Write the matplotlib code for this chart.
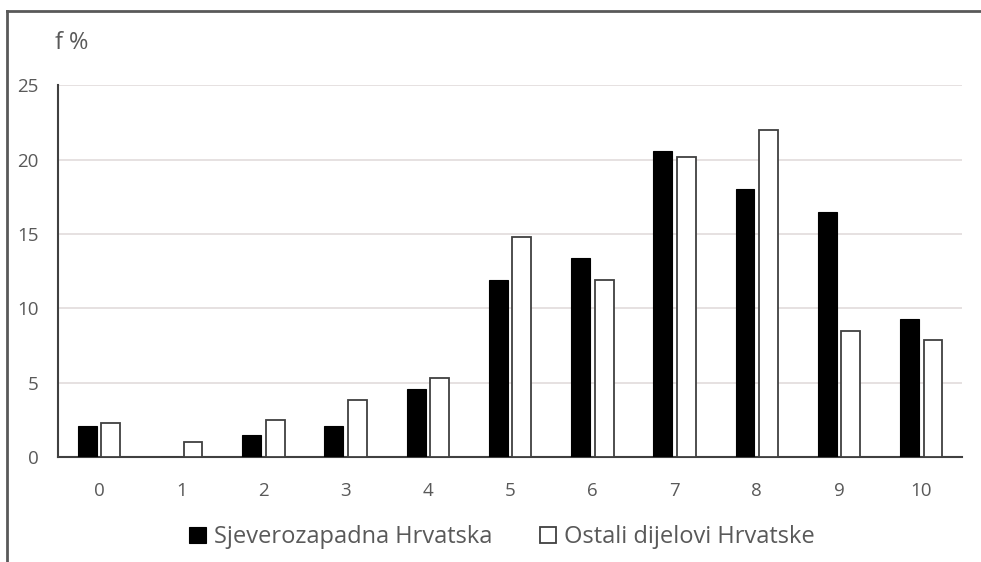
import numpy as np
import matplotlib
matplotlib.use("Agg")
import matplotlib.pyplot as plt
from matplotlib.lines import Line2D

# ── Data ───────────────────────────────────────────────────
categories = ["0", "1", "2", "3", "4", "5", "6", "7", "8", "9", "10"]
sjeverozapadna = [2.1, 0.0, 1.5, 2.1, 4.6, 11.9, 13.4, 20.6, 18.0, 16.5, 9.3]
ostali = [2.3, 1.0, 2.5, 3.8, 5.3, 14.8, 11.9, 20.2, 22.0, 8.5, 7.9]
labels = ["Sjeverozapadna Hrvatska", "Ostali dijelovi Hrvatske"]
y_ticks = [0, 5, 10, 15, 20, 25]

plt.rcParams["font.family"] = ["Open Sans", "DejaVu Sans"]
TXT = "#595959"

fig = plt.figure(figsize=(9.81, 5.62), dpi=100)
ax = fig.add_axes([0.059, 0.187, 0.922, 0.661])

x = np.arange(len(categories))
w = 0.23
off = 0.143
ax.bar(x - off, sjeverozapadna, width=w, color="black", edgecolor="black",
       linewidth=0.8, label=labels[0], zorder=3)
ax.bar(x + off, ostali, width=w, color="white", edgecolor="#404040",
       linewidth=1.3, label=labels[1], zorder=3)

ax.set_xlim(-0.5, 10.5)
ax.set_ylim(0, 25)
ax.set_yticks(y_ticks)
ax.set_xticks(x)
ax.set_xticklabels(categories)
ax.tick_params(axis="both", length=0, colors=TXT, labelsize=13.5)
ax.tick_params(axis="x", pad=18)
ax.tick_params(axis="y", pad=14)
ax.grid(axis="y", color="#e2dcdc", linewidth=1.2, zorder=0)

for s in ["top", "right"]:
    ax.spines[s].set_visible(False)
ax.spines["left"].set_color("#404040")
ax.spines["left"].set_linewidth(1.5)
ax.spines["bottom"].set_color("#404040")
ax.spines["bottom"].set_linewidth(1.5)

fig.text(0.056, 0.923, "f %", color=TXT, fontsize=17, va="center", ha="left")

leg = fig.legend(loc="center", bbox_to_anchor=(0.512, 0.044), ncol=2,
                 frameon=False, fontsize=17, handlelength=0.7,
                 handleheight=0.7, handletextpad=0.35, columnspacing=2.0)
for t in leg.get_texts():
    t.set_color(TXT)

# outer frame (top and left edges)
fig.add_artist(Line2D([0.007, 1.0], [0.980, 0.980], color="#595959", linewidth=2))
fig.add_artist(Line2D([0.007, 0.007], [0.0, 0.980], color="#595959", linewidth=2))

plt.savefig("out.png", dpi=100)
